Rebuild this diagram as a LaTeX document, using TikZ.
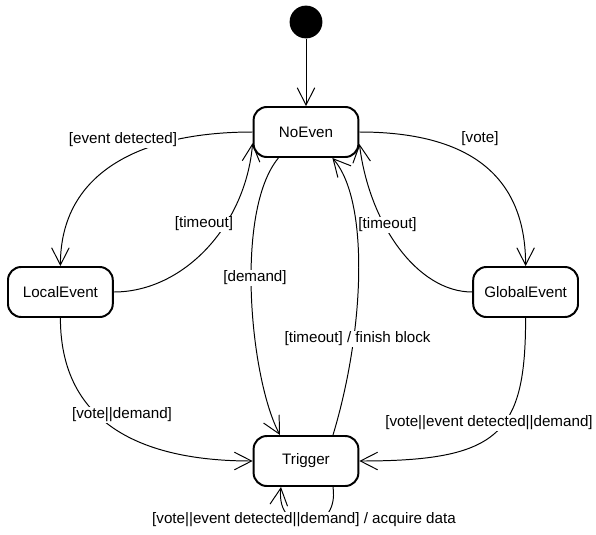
\documentclass[tikz,border=0pt]{standalone}
\usepackage{fontspec}
\setmainfont{Liberation Sans}
\usepackage{tikz}
\usetikzlibrary{arrows.meta,positioning,calc}
\newcommand{\umlfont}{\fontsize{10.8}{13}\selectfont}

\begin{document}
\begin{tikzpicture}
  \tikzstyle{state}=[rectangle, draw, rounded corners=0.33cm, line width=1.4pt, minimum width=2.62cm, minimum height=1.25cm, font=\umlfont]
  \tikzstyle{guard}=[fill=white, inner sep=0.5pt, font=\umlfont]
  \tikzstyle{trans}=[-{Straight Barb[length=0.43cm,width=0.44cm]}, line width=0.7pt]
  \useasboundingbox (0,0) rectangle (14.9,13.35);

  % Estados
  \node[circle, fill=black, minimum size=0.82cm, inner sep=0pt] (init) at (7.65,12.8) {};
  \node[state] (NoEven) at (7.65,10.05) {NoEven};
  \node[state] (LocalEvent) at (1.51,6.05) {LocalEvent};
  \node[state] (GlobalEvent) at (13.14,6.05) {GlobalEvent};
  \node[state] (Trigger) at (7.65,1.825) {Trigger};

  % Transiciones
  \draw[trans] (init) -- (NoEven);
  \draw[trans] (NoEven.west) .. controls +(-2.75,0) and +(0,2.375) .. (LocalEvent.north);
  \draw[trans] (LocalEvent.east) .. controls +(1.75,0) and +(-0.175,-2.05) .. ([yshift=-0.28cm]NoEven.west);
  \draw[trans] ([xshift=-0.69cm]NoEven.south) .. controls +(-1.1,-1.325) and +(-0.75,1.4) .. ([xshift=-0.65cm]Trigger.north);
  \draw[trans] ([xshift=0.675cm]Trigger.north) .. controls +(0.8,2.65) and +(0.925,-1.05) .. ([xshift=0.66cm]NoEven.south);
  \draw[trans] (NoEven.east) .. controls +(2.525,0) and +(0,2.425) .. (GlobalEvent.north);
  \draw[trans] (GlobalEvent.west) .. controls +(-1.375,0) and +(0.25,-2.0) .. ([yshift=-0.3cm]NoEven.east);
  \draw[trans] (LocalEvent.south) .. controls +(0,-2.9) and +(-2.35,0) .. (Trigger.west);
  \draw[trans] (GlobalEvent.south) .. controls +(0,-2.9) and +(3.5,0) .. (Trigger.east);
  \draw[trans] ([xshift=0.675cm]Trigger.south) .. controls +(0.175,-1.225) and +(-0.15,-1.225) .. ([xshift=-0.625cm]Trigger.south);

  % Guardas
  \node[guard] (gEv) at (3.075,9.85) {[event detected]};
  \node[guard] (gTimeL) at (5.1,7.75) {[timeout]};
  \node[guard] (gDem) at (6.375,6.4) {[demand]};
  \node[guard] (gFin) at (8.94,4.875) {[timeout] / finish block};
  \node[guard] (gVote) at (12.0,9.875) {[vote]};
  \node[guard] (gTimeR) at (9.69,7.725) {[timeout]};
  \node[guard] (gVD) at (3.05,2.975) {[vote||demand]};
  \node[guard] (gVED) at (12.225,2.775) {[vote||event detected||demand]};
  \node[guard] (gAcq) at (7.6,0.35) {[vote||event detected||demand] / acquire data};
\end{tikzpicture}
\end{document}
